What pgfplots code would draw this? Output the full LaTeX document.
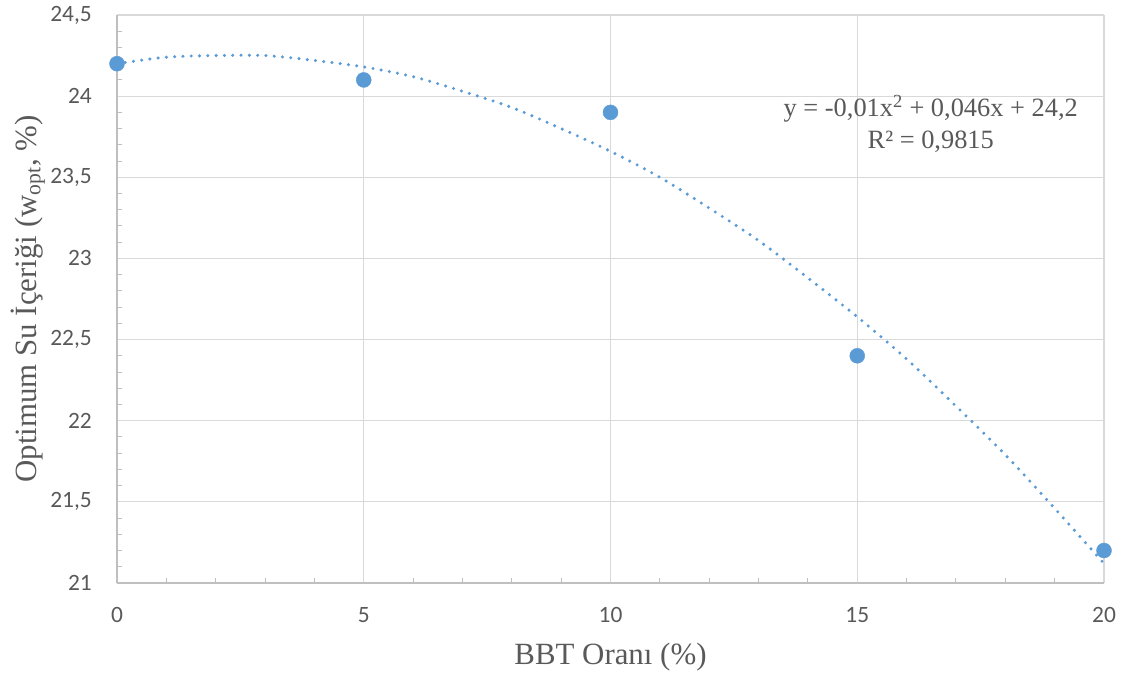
\documentclass[border=0pt]{standalone}
\usepackage{fontspec}
\setmainfont{Liberation Serif}
\newfontfamily\carlito{Carlito}
\usepackage{pgfplots}
\pgfplotsset{compat=1.18}
\definecolor{ptblue}{HTML}{5B9BD5}
\definecolor{gridgray}{HTML}{D9D9D9}
\definecolor{axisgray}{HTML}{BFBFBF}
\definecolor{txtgray}{HTML}{595959}
\begin{document}
\begin{tikzpicture}
\useasboundingbox (0,0) rectangle (1126bp,682bp);
\begin{axis}[
  at={(117bp,99bp)}, anchor=south west,
  width=987bp, height=568bp, scale only axis,
  xmin=0, xmax=20, ymin=21, ymax=24.5,
  xtick={0,5,10,15,20}, ytick={21,21.5,...,24.5},
  minor x tick num=4, minor y tick num=4,
  axis x line=bottom, axis y line=left,
  axis line style={-, draw=axisgray, line width=1.2bp},
  grid=major, major grid style={draw=gridgray, line width=1.2bp},
  tick align=inside, major tick length=0pt, minor tick length=5bp,
  minor tick style={draw=axisgray, line width=1bp},
  /pgf/number format/.cd, use comma, 1000 sep={}, assume math mode=true,
  /pgfplots/.cd,
  ticklabel style={font=\carlito\fontsize{23.5}{23.5}\selectfont, text=txtgray},
  xticklabel style={anchor=center, yshift=-32bp},
  yticklabel style={anchor=east, inner sep=0pt, xshift=-25bp},
  xlabel={BBT Oranı (\%)},
  ylabel={Optimum Su İçeriği (w\textsubscript{opt}, \%)},
  label style={font=\fontsize{31}{31}\selectfont, text=txtgray},
  xlabel style={at={(axis description cs:0.5,-0.1303)}, anchor=center},
  ylabel style={at={(axis description cs:-0.0902,0.5)}, anchor=center},
  clip=false,
]
\addplot[smooth, draw=ptblue, line width=3.4bp, line cap=round,
  dash pattern=on 0pt off 8.3bp] coordinates {
(0,24.20) (1,24.24) (2,24.25) (3,24.25) (4,24.22) (5,24.18) (6,24.12)
(7,24.03) (8,23.93) (9,23.80) (10,23.66) (11,23.50) (12,23.31) (13,23.11)
(14,22.88) (15,22.64) (16,22.38) (17,22.09) (18,21.79) (19,21.46) (20,21.12)
};
\addplot[only marks, mark=*, mark size=7.5bp, mark options={fill=ptblue, draw=ptblue}] coordinates {
(0,24.2) (5,24.1) (10,23.9) (15,22.4) (20,21.2)
};
\node[align=center, text=txtgray, font=\fontsize{26.5}{32}\selectfont] at (axis cs:16.49,23.83)
  {y = -0,01x\textsuperscript{2} + 0,046x + 24,2\\R² = 0,9815};
\end{axis}
\end{tikzpicture}
\end{document}
